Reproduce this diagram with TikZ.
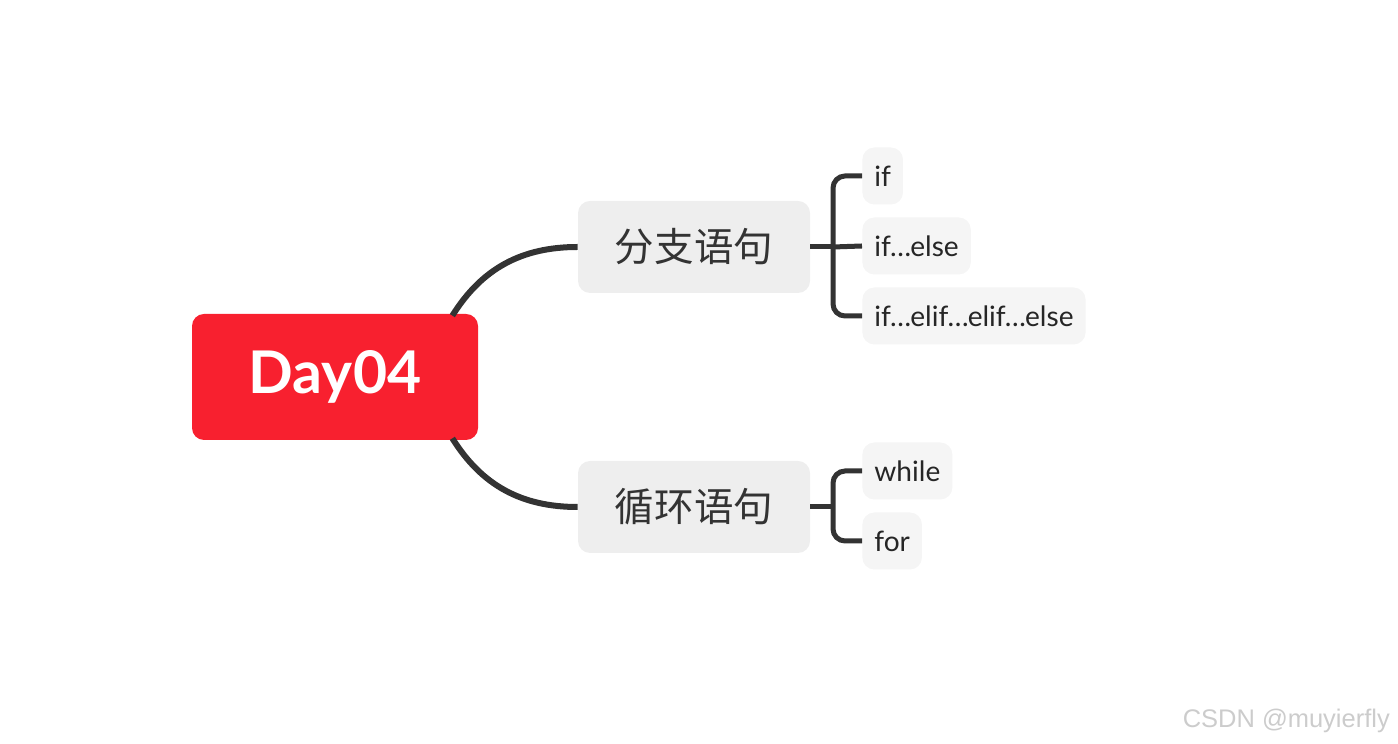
\documentclass[tikz,border=0pt]{standalone}
\usepackage{fontspec}
\setmainfont{Lato}
\newfontfamily\cjk{Noto Sans CJK SC}
\newfontfamily\marksans{Liberation Sans}
\usepackage{xcolor}
\usetikzlibrary{positioning}
\definecolor{rootred}{HTML}{F8202F}
\definecolor{branchgray}{HTML}{EEEEEE}
\definecolor{leafgray}{HTML}{F5F5F5}
\definecolor{linegray}{HTML}{333333}
\def\px{0.02cm}
\def\spineX{833}
\newcommand{\leafdots}{\kern-0.5pt…\kern-0.5pt}

\begin{document}
\begin{tikzpicture}[
    x=\px, y=\px,
    root/.style={fill=rootred, text=white, rounded corners=12*\px,
        minimum width=286*\px, minimum height=126*\px,
        font=\fontsize{33.5}{38}\selectfont\bfseries},
    branch/.style={fill=branchgray, text=linegray, rounded corners=12*\px,
        minimum width=232*\px, minimum height=92*\px,
        font=\cjk\fontsize{22.5}{26}\selectfont},
    leaf/.style={fill=leafgray, text=black!85, rounded corners=12*\px,
        anchor=west, inner xsep=12*\px, minimum height=57*\px,
        font=\fontsize{16}{19}\selectfont},
    link/.style={draw=linegray, line width=6*\px},
    fork/.style={draw=linegray, line width=5*\px, rounded corners=12*\px}
]
\useasboundingbox (0,0) rectangle (1398,743);

\node[root] (day) at (335,366) {Day04};
\node[branch] (fenzhi) at (694,496) {分支语句};
\node[branch] (xunhuan) at (694,236) {循环语句};

\node[leaf] (if) at (862,567) {if};
\node[leaf] (ifelse) at (862,497) {if\leafdots else};
\node[leaf] (ifelif) at (862,427) {if\leafdots elif\leafdots elif\leafdots else};
\node[leaf] (while) at (862,272) {while};
\node[leaf] (for) at (862,202) {for};

% main branches
\draw[link] ([xshift=-26*\px,yshift=-2*\px]day.north east) to[out=58,in=180] (fenzhi.west);
\draw[link] ([xshift=-26*\px,yshift=2*\px]day.south east) to[out=-58,in=180] (xunhuan.west);

% sub branches
\coordinate (s1) at (\spineX,496);
\coordinate (s2) at (\spineX,236);
\draw[fork] (fenzhi.east) -- (s1);
\draw[fork] (if.west) -| (s1) |- (ifelif.west);
\draw[fork] (s1) -- (ifelse.west);
\draw[fork] (xunhuan.east) -- (s2);
\draw[fork] (while.west) -| (s2) |- (for.west);

\node[text=black!20, font=\marksans\fontsize{14.5}{17}\selectfont, anchor=east] (mark) at (1396,22) {CSDN @muyierfly};
\end{tikzpicture}
\end{document}
